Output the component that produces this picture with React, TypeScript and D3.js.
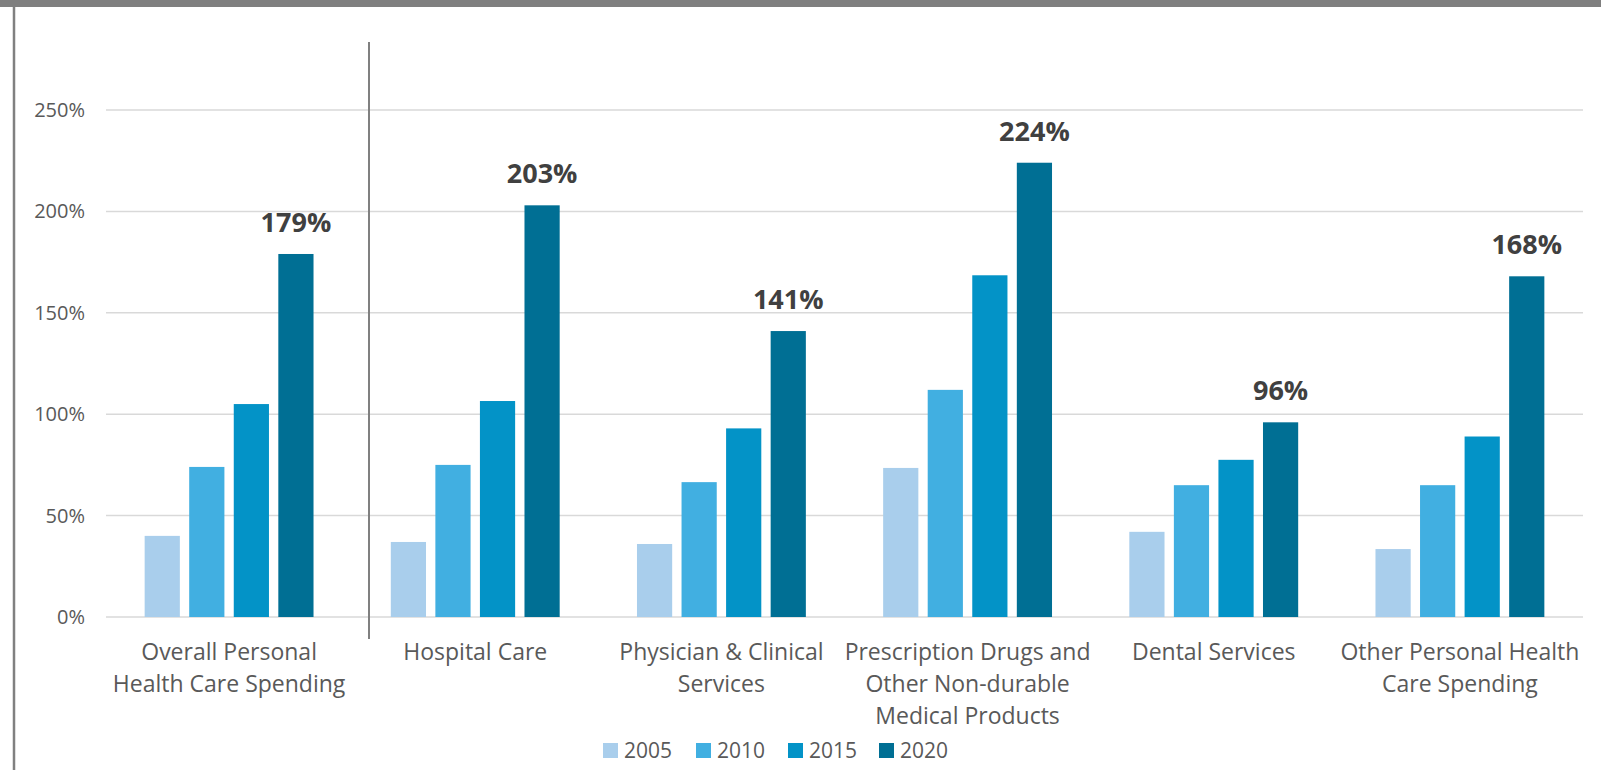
import React from "react";
import * as d3 from "d3";

const categories: string[][] = [
  ["Overall Personal", "Health Care Spending"],
  ["Hospital Care"],
  ["Physician & Clinical", "Services"],
  ["Prescription Drugs and", "Other Non-durable", "Medical Products"],
  ["Dental Services"],
  ["Other Personal Health", "Care Spending"],
];
const years = ["2005", "2010", "2015", "2020"];
const v2005 = [40, 37, 36, 73.5, 42, 33.5];
const v2010 = [74, 75, 66.5, 112, 65, 65];
const v2015 = [105, 106.5, 93, 168.5, 77.5, 89];
const v2020 = [179, 203, 141, 224, 96, 168];
const series = [v2005, v2010, v2015, v2020];
const colors = ["#A9CEEC", "#41AFE1", "#0393C7", "#006F94"];
const yTicks = [0, 50, 100, 150, 200, 250];

const W = 1601;
const H = 770;
const FONT = "'Open Sans', sans-serif";

export default function App() {
  const keys = categories.map((c) => c.join(" "));
  const x0 = d3.scaleBand<string>().domain(keys).range([106, 1583]).paddingInner(0.314).paddingOuter(0.157);
  const x1 = d3.scaleBand<string>().domain(years).range([0, x0.bandwidth()]).paddingInner(0.21);
  const y = d3.scaleLinear().domain([0, 250]).range([617, 110]);

  return (
    <svg width={W} height={H} style={{ position: "absolute", left: 0, top: 0, background: "#fff" }} fontFamily={FONT}>
      <rect x={0} y={0} width={W} height={7} fill="#7f7f7f" />
      <line x1={14} x2={14} y1={7} y2={H} stroke="#808080" strokeWidth={2.5} />
      {yTicks.map((t) => (
        <g key={t}>
          <line x1={106} x2={1583} y1={y(t)} y2={y(t)} stroke="#d9d9d9" strokeWidth={1.5} />
          <text x={85} y={y(t)} dy="0.35em" textAnchor="end" fontSize={20} fill="#595959">
            {t}%
          </text>
        </g>
      ))}
      <line x1={369} x2={369} y1={42} y2={639} stroke="#808080" strokeWidth={2} />
      {keys.map((k, ci) => (
        <g key={k} transform={`translate(${x0(k)},0)`}>
          {years.map((yr, si) => (
            <rect
              key={yr}
              x={x1(yr)}
              y={y(series[si][ci])}
              width={x1.bandwidth()}
              height={y(0) - y(series[si][ci])}
              fill={colors[si]}
            />
          ))}
          <text
            x={(x1("2020") as number) + x1.bandwidth() / 2}
            y={y(v2020[ci]) - 22}
            textAnchor="middle"
            fontSize={27}
            fontWeight="bold"
            fill="#404040"
          >
            {Math.round(v2020[ci])}%
          </text>
          {categories[ci].map((line, li) => (
            <text
              key={li}
              x={x0.bandwidth() / 2}
              y={660 + li * 32}
              textAnchor="middle"
              fontSize={23}
              fill="#595959"
            >
              {line}
            </text>
          ))}
        </g>
      ))}
      {years.map((yr, si) => {
        const lx = [603, 696, 788, 879][si];
        return (
          <g key={yr}>
            <rect x={lx} y={743} width={15} height={15} fill={colors[si]} />
            <text x={lx + 21} y={758} fontSize={21} fill="#595959">
              {yr}
            </text>
          </g>
        );
      })}
    </svg>
  );
}
